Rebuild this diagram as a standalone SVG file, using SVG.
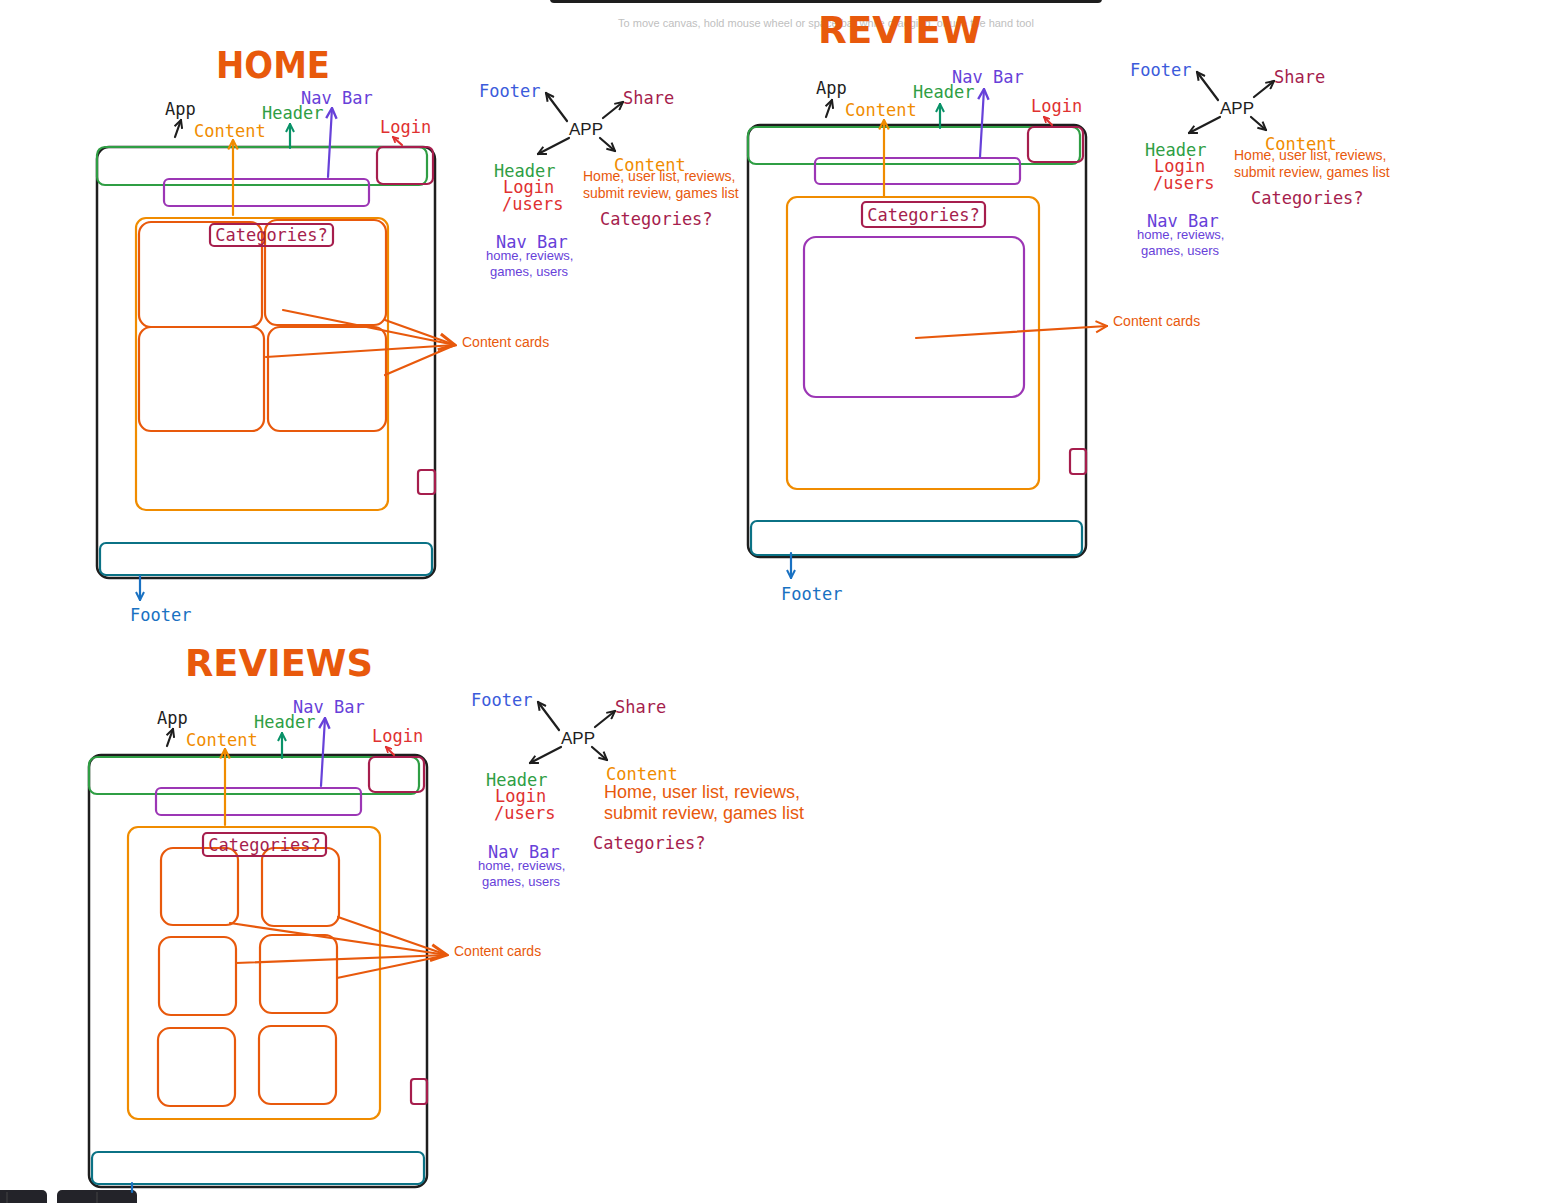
<svg xmlns="http://www.w3.org/2000/svg" width="1544" height="1203" viewBox="0 0 1544 1203">
<style>
.mono{font-family:"DejaVu Sans Mono","Liberation Mono",monospace;font-size:17px}
.sans{font-family:"Liberation Sans",Arial,sans-serif}
.title{font-family:"DejaVu Sans","Liberation Sans",sans-serif;font-size:38px;fill:#e8590c;font-weight:bold}
.frame{fill:none;stroke:#1e1e1e;stroke-width:2.5}
.hdr{fill:none;stroke:#2f9e44;stroke-width:2.2}
.nav{fill:none;stroke:#9c36b5;stroke-width:2.2}
.login{fill:none;stroke:#a61e4d;stroke-width:2.2}
.cont{fill:none;stroke:#f08c00;stroke-width:2.2}
.card{fill:none;stroke:#e8590c;stroke-width:2.2}
.foot{fill:none;stroke:#0b7285;stroke-width:2.2}
.ln{fill:none;stroke-linecap:round;stroke-width:2.2}
</style>
<defs>
<marker id="ak" viewBox="0 0 10 10" refX="9" refY="5" markerWidth="10" markerHeight="10" markerUnits="userSpaceOnUse" orient="auto"><path d="M1,1 L9,5 L1,9" fill="none" stroke="#1e1e1e" stroke-width="2"/></marker>
<marker id="ao" viewBox="0 0 10 10" refX="9" refY="5" markerWidth="12" markerHeight="12" markerUnits="userSpaceOnUse" orient="auto"><path d="M1,1 L9,5 L1,9" fill="none" stroke="#f08c00" stroke-width="1.8"/></marker>
<marker id="at" viewBox="0 0 10 10" refX="9" refY="5" markerWidth="10" markerHeight="10" markerUnits="userSpaceOnUse" orient="auto"><path d="M1,1 L9,5 L1,9" fill="none" stroke="#099268" stroke-width="2"/></marker>
<marker id="ap" viewBox="0 0 10 10" refX="9" refY="5" markerWidth="13" markerHeight="13" markerUnits="userSpaceOnUse" orient="auto"><path d="M1,1 L9,5 L1,9" fill="none" stroke="#6741d9" stroke-width="1.8"/></marker>
<marker id="ar" viewBox="0 0 10 10" refX="9" refY="5" markerWidth="7" markerHeight="7" markerUnits="userSpaceOnUse" orient="auto"><path d="M1,1 L9,5 L1,9" fill="none" stroke="#e03131" stroke-width="2.5"/></marker>
<marker id="ab" viewBox="0 0 10 10" refX="9" refY="5" markerWidth="10" markerHeight="10" markerUnits="userSpaceOnUse" orient="auto"><path d="M1,1 L9,5 L1,9" fill="none" stroke="#1971c2" stroke-width="2"/></marker>
<marker id="ac" viewBox="0 0 10 10" refX="9" refY="5" markerWidth="20" markerHeight="20" markerUnits="userSpaceOnUse" orient="auto"><path d="M1,1 L9,5 L1,9" fill="none" stroke="#e8590c" stroke-width="1.5"/></marker>
<marker id="ac2" viewBox="0 0 10 10" refX="9" refY="5" markerWidth="14" markerHeight="14" markerUnits="userSpaceOnUse" orient="auto"><path d="M1,1 L9,5 L1,9" fill="none" stroke="#e8590c" stroke-width="1.5"/></marker>
</defs>
<rect width="1544" height="1203" fill="#ffffff"/>

<g id="ui-chrome">
<rect x="550" y="-8" width="552" height="11" rx="4" fill="#1e1e1e"/>
<text x="826" y="27" text-anchor="middle" class="sans" font-size="11" fill="#c0c0c0">To move canvas, hold mouse wheel or space bar while dragging, or use the hand tool</text>
<rect x="-6" y="1190" width="53" height="20" rx="5" fill="#232329"/>
<rect x="57" y="1190" width="80" height="20" rx="5" fill="#232329"/>
<line x1="7" y1="1192" x2="7" y2="1203" stroke="#444" stroke-width="1"/>
<line x1="97" y1="1192" x2="97" y2="1203" stroke="#444" stroke-width="1"/>
</g>

<g id="titles">
<text x="273" y="78" text-anchor="middle" class="title" textLength="114" lengthAdjust="spacingAndGlyphs">HOME</text>
<text x="900" y="43" text-anchor="middle" class="title" textLength="164" lengthAdjust="spacingAndGlyphs">REVIEW</text>
<text x="279" y="676" text-anchor="middle" class="title" textLength="188" lengthAdjust="spacingAndGlyphs">REVIEWS</text>
</g>

<g id="home">
<rect class="frame" x="97" y="147" width="338" height="431" rx="12"/>
<rect class="hdr" x="97" y="147" width="330" height="38" rx="8"/>
<rect class="login" x="377" y="147" width="56" height="37" rx="6"/>
<rect class="nav" x="164" y="179" width="205" height="27" rx="5"/>
<rect class="cont" x="136" y="218" width="252" height="292" rx="10"/>
<rect class="card" x="139" y="222" width="123" height="105" rx="12"/>
<rect class="card" x="265" y="220" width="121" height="105" rx="12"/>
<rect class="card" x="139" y="327" width="125" height="104" rx="12"/>
<rect class="card" x="268" y="327" width="118" height="104" rx="12"/>
<rect class="login" x="210" y="224" width="123" height="22" rx="4" fill="#fff"/>
<text x="271.5" y="241" text-anchor="middle" class="mono" fill="#a61e4d">Categories?</text>
<rect class="login" x="418" y="470" width="17" height="24" rx="3"/>
<rect class="foot" x="100" y="543" width="332" height="32" rx="6"/>
<text x="165" y="115" class="mono" fill="#1e1e1e">App</text>
<text x="194" y="137" class="mono" fill="#f08c00">Content</text>
<text x="262" y="119" class="mono" fill="#2f9e44">Header</text>
<text x="301" y="104" class="mono" fill="#6741d9">Nav Bar</text>
<text x="380" y="133" class="mono" fill="#e03131">Login</text>
<text x="130" y="621" class="mono" fill="#1971c2">Footer</text>
<text x="462" y="347" class="sans" font-size="14" fill="#e8590c">Content cards</text>
</g>

<g id="review">
<rect class="frame" x="748" y="125" width="338" height="432" rx="12"/>
<rect class="hdr" x="748" y="127" width="332" height="37" rx="8"/>
<rect class="login" x="1028" y="127" width="55" height="35" rx="6"/>
<rect class="nav" x="815" y="158" width="205" height="26" rx="5"/>
<rect class="cont" x="787" y="197" width="252" height="292" rx="10"/>
<rect class="login" x="862" y="202" width="123" height="25" rx="4"/>
<text x="923.5" y="221" text-anchor="middle" class="mono" fill="#a61e4d">Categories?</text>
<rect class="nav" x="804" y="237" width="220" height="160" rx="12"/>
<rect class="login" x="1070" y="449" width="16" height="25" rx="3"/>
<rect class="foot" x="751" y="521" width="331" height="34" rx="6"/>
<text x="816" y="94" class="mono" fill="#1e1e1e">App</text>
<text x="845" y="116" class="mono" fill="#f08c00">Content</text>
<text x="913" y="98" class="mono" fill="#2f9e44">Header</text>
<text x="952" y="83" class="mono" fill="#6741d9">Nav Bar</text>
<text x="1031" y="112" class="mono" fill="#e03131">Login</text>
<text x="781" y="600" class="mono" fill="#1971c2">Footer</text>
<text x="1113" y="326" class="sans" font-size="14" fill="#e8590c">Content cards</text>
</g>

<g id="reviews">
<rect class="frame" x="89" y="755" width="338" height="432" rx="12"/>
<rect class="hdr" x="89" y="757" width="330" height="37" rx="8"/>
<rect class="login" x="369" y="757" width="55" height="35" rx="6"/>
<rect class="nav" x="156" y="788" width="205" height="27" rx="5"/>
<rect class="cont" x="128" y="827" width="252" height="292" rx="10"/>
<rect class="card" x="161" y="848" width="77" height="77" rx="12"/>
<rect class="card" x="262" y="848" width="77" height="78" rx="12"/>
<rect class="card" x="159" y="937" width="77" height="78" rx="12"/>
<rect class="card" x="260" y="935" width="77" height="78" rx="12"/>
<rect class="card" x="158" y="1028" width="77" height="78" rx="12"/>
<rect class="card" x="259" y="1026" width="77" height="78" rx="12"/>
<rect class="login" x="203" y="833" width="123" height="23" rx="4"/>
<text x="264.5" y="851" text-anchor="middle" class="mono" fill="#a61e4d">Categories?</text>
<rect class="login" x="411" y="1079" width="16" height="25" rx="3"/>
<rect class="foot" x="92" y="1152" width="332" height="32" rx="6"/>
<text x="157" y="724" class="mono" fill="#1e1e1e">App</text>
<text x="186" y="746" class="mono" fill="#f08c00">Content</text>
<text x="254" y="728" class="mono" fill="#2f9e44">Header</text>
<text x="293" y="713" class="mono" fill="#6741d9">Nav Bar</text>
<text x="372" y="742" class="mono" fill="#e03131">Login</text>
<text x="454" y="956" class="sans" font-size="14" fill="#e8590c">Content cards</text>
</g>

<g id="tree-home">
<text x="569" y="135" class="sans" font-size="17" fill="#1e1e1e">APP</text>
<text x="479" y="97" class="mono" fill="#3b5bdb">Footer</text>
<text x="623" y="104" class="mono" fill="#a61e4d">Share</text>
<text x="494" y="177" class="mono" fill="#2f9e44">Header</text>
<text x="503" y="193" class="mono" fill="#e03131">Login</text>
<text x="502" y="210" class="mono" font-size="13.5" fill="#e03131">/users</text>
<text x="496" y="248" class="mono" fill="#6741d9">Nav Bar</text>
<text x="486" y="260" class="sans" font-size="13" fill="#6741d9">home, reviews,</text>
<text x="490" y="276" class="sans" font-size="13" fill="#6741d9">games, users</text>
<text x="614" y="171" class="mono" font-size="17.5" fill="#f08c00">Content</text>
<text x="583" y="181" class="sans" font-size="14" fill="#e8590c">Home, user list, reviews,</text>
<text x="583" y="198" class="sans" font-size="14" fill="#e8590c">submit review, games list</text>
<text x="600" y="225" class="mono" font-size="17" fill="#a61e4d">Categories?</text>
</g>
<g id="tree-review">
<text x="1220" y="114" class="sans" font-size="17" fill="#1e1e1e">APP</text>
<text x="1130" y="76" class="mono" fill="#3b5bdb">Footer</text>
<text x="1274" y="83" class="mono" fill="#a61e4d">Share</text>
<text x="1145" y="156" class="mono" fill="#2f9e44">Header</text>
<text x="1154" y="172" class="mono" fill="#e03131">Login</text>
<text x="1153" y="189" class="mono" font-size="13.5" fill="#e03131">/users</text>
<text x="1147" y="227" class="mono" fill="#6741d9">Nav Bar</text>
<text x="1137" y="239" class="sans" font-size="13" fill="#6741d9">home, reviews,</text>
<text x="1141" y="255" class="sans" font-size="13" fill="#6741d9">games, users</text>
<text x="1265" y="150" class="mono" font-size="17.5" fill="#f08c00">Content</text>
<text x="1234" y="160" class="sans" font-size="14" fill="#e8590c">Home, user list, reviews,</text>
<text x="1234" y="177" class="sans" font-size="14" fill="#e8590c">submit review, games list</text>
<text x="1251" y="204" class="mono" font-size="17" fill="#a61e4d">Categories?</text>
</g>
<g id="tree-reviews">
<text x="561" y="744" class="sans" font-size="17" fill="#1e1e1e">APP</text>
<text x="471" y="706" class="mono" fill="#3b5bdb">Footer</text>
<text x="615" y="713" class="mono" fill="#a61e4d">Share</text>
<text x="486" y="786" class="mono" fill="#2f9e44">Header</text>
<text x="495" y="802" class="mono" fill="#e03131">Login</text>
<text x="494" y="819" class="mono" font-size="13.5" fill="#e03131">/users</text>
<text x="488" y="858" class="mono" fill="#6741d9">Nav Bar</text>
<text x="478" y="870" class="sans" font-size="13" fill="#6741d9">home, reviews,</text>
<text x="482" y="886" class="sans" font-size="13" fill="#6741d9">games, users</text>
<text x="606" y="780" class="mono" font-size="17" fill="#f08c00">Content</text>
<text x="604" y="798" class="sans" font-size="18" fill="#e8590c">Home, user list, reviews,</text>
<text x="604" y="819" class="sans" font-size="18" fill="#e8590c">submit review, games list</text>
<text x="593" y="849" class="mono" font-size="17" fill="#a61e4d">Categories?</text>
</g>

<g id="connectors">
<line class="ln" stroke="#1e1e1e" stroke-width="2.8" x1="175" y1="137" x2="181" y2="120" marker-end="url(#ak)"/>
<line class="ln" stroke="#f08c00" x1="233" y1="215" x2="233" y2="140" marker-end="url(#ao)"/>
<line class="ln" stroke="#099268" x1="290" y1="148" x2="290" y2="124" marker-end="url(#at)"/>
<line class="ln" stroke="#6741d9" x1="328" y1="177" x2="332" y2="108" marker-end="url(#ap)"/>
<line class="ln" stroke="#e03131" x1="402" y1="145" x2="393" y2="137" marker-end="url(#ar)"/>
<line class="ln" stroke="#1971c2" x1="140" y1="576" x2="140" y2="600" marker-end="url(#ab)"/>
<line class="ln" stroke="#e8590c" x1="283" y1="310" x2="455" y2="345" marker-end="url(#ac)"/>
<line class="ln" stroke="#e8590c" x1="385" y1="320" x2="455" y2="345"/>
<line class="ln" stroke="#e8590c" x1="266" y1="357" x2="455" y2="345"/>
<line class="ln" stroke="#e8590c" x1="385" y1="375" x2="455" y2="345"/>

<line class="ln" stroke="#1e1e1e" stroke-width="2.8" x1="826" y1="117" x2="832" y2="100" marker-end="url(#ak)"/>
<line class="ln" stroke="#f08c00" x1="884" y1="196" x2="884" y2="120" marker-end="url(#ao)"/>
<line class="ln" stroke="#099268" x1="940" y1="128" x2="940" y2="104" marker-end="url(#at)"/>
<line class="ln" stroke="#6741d9" x1="980" y1="157" x2="984" y2="89" marker-end="url(#ap)"/>
<line class="ln" stroke="#e03131" x1="1052" y1="125" x2="1044" y2="117" marker-end="url(#ar)"/>
<line class="ln" stroke="#1971c2" x1="791" y1="553" x2="791" y2="578" marker-end="url(#ab)"/>
<line class="ln" stroke="#e8590c" x1="916" y1="338" x2="1107" y2="326" marker-end="url(#ac2)"/>

<line class="ln" stroke="#1e1e1e" stroke-width="2.8" x1="167" y1="746" x2="173" y2="729" marker-end="url(#ak)"/>
<line class="ln" stroke="#f08c00" x1="225" y1="825" x2="225" y2="749" marker-end="url(#ao)"/>
<line class="ln" stroke="#099268" x1="282" y1="758" x2="282" y2="733" marker-end="url(#at)"/>
<line class="ln" stroke="#6741d9" x1="321" y1="786" x2="325" y2="718" marker-end="url(#ap)"/>
<line class="ln" stroke="#e03131" x1="394" y1="755" x2="386" y2="747" marker-end="url(#ar)"/>
<line class="ln" stroke="#1971c2" x1="132" y1="1183" x2="132" y2="1192"/>
<line class="ln" stroke="#e8590c" x1="230" y1="923" x2="447" y2="955" marker-end="url(#ac)"/>
<line class="ln" stroke="#e8590c" x1="338" y1="917" x2="447" y2="955"/>
<line class="ln" stroke="#e8590c" x1="236" y1="963" x2="447" y2="955"/>
<line class="ln" stroke="#e8590c" x1="337" y1="978" x2="447" y2="955"/>

<line class="ln" stroke="#1e1e1e" stroke-width="2.8" x1="567" y1="121" x2="546" y2="93" marker-end="url(#ak)"/>
<line class="ln" stroke="#1e1e1e" stroke-width="2.2" x1="603" y1="118" x2="623" y2="102" marker-end="url(#ak)"/>
<line class="ln" stroke="#1e1e1e" stroke-width="2.8" x1="569" y1="138" x2="538" y2="154" marker-end="url(#ak)"/>
<line class="ln" stroke="#1e1e1e" stroke-width="2.2" x1="600" y1="138" x2="615" y2="151" marker-end="url(#ak)"/>

<line class="ln" stroke="#1e1e1e" stroke-width="2.8" x1="1218" y1="100" x2="1197" y2="72" marker-end="url(#ak)"/>
<line class="ln" stroke="#1e1e1e" stroke-width="2.2" x1="1254" y1="97" x2="1274" y2="81" marker-end="url(#ak)"/>
<line class="ln" stroke="#1e1e1e" stroke-width="2.8" x1="1220" y1="117" x2="1189" y2="133" marker-end="url(#ak)"/>
<line class="ln" stroke="#1e1e1e" stroke-width="2.2" x1="1251" y1="117" x2="1266" y2="130" marker-end="url(#ak)"/>

<line class="ln" stroke="#1e1e1e" stroke-width="2.8" x1="559" y1="730" x2="538" y2="702" marker-end="url(#ak)"/>
<line class="ln" stroke="#1e1e1e" stroke-width="2.2" x1="595" y1="727" x2="615" y2="711" marker-end="url(#ak)"/>
<line class="ln" stroke="#1e1e1e" stroke-width="2.8" x1="561" y1="747" x2="530" y2="763" marker-end="url(#ak)"/>
<line class="ln" stroke="#1e1e1e" stroke-width="2.2" x1="592" y1="747" x2="607" y2="760" marker-end="url(#ak)"/>
</g>
</svg>
